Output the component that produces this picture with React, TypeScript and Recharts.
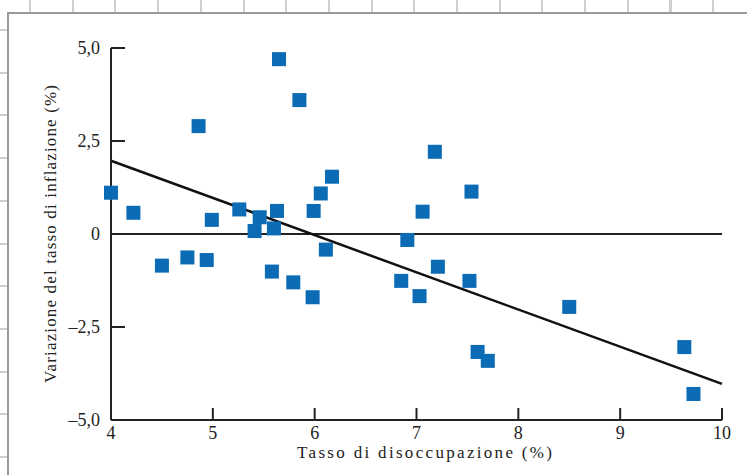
import { ScatterChart, Scatter, XAxis, YAxis, ReferenceLine, Label } from "recharts";

// #region Phillips curve data
export const unemployment = [
  4.0, 4.22, 4.5, 4.75, 4.86, 4.94, 4.99, 5.26, 5.41, 5.46, 5.6, 5.63, 5.65, 5.58,
  5.79, 5.85, 5.98, 5.99, 6.06, 6.11, 6.17, 6.85, 6.91, 7.03, 7.06, 7.18, 7.21,
  7.52, 7.54, 7.6, 7.7, 8.5, 9.63, 9.72,
];
export const inflationChange = [
  1.11, 0.57, -0.85, -0.63, 2.9, -0.7, 0.38, 0.66, 0.08, 0.45, 0.15, 0.62, 4.7, -1.01,
  -1.3, 3.6, -1.7, 0.62, 1.09, -0.42, 1.54, -1.26, -0.16, -1.67, 0.6, 2.21, -0.88,
  -1.26, 1.14, -3.17, -3.41, -1.96, -3.04, -4.3,
];
export const fitX = [4, 10];
export const fitY = [1.97, -4.03];
export const xTicks = [4, 5, 6, 7, 8, 9, 10];
export const yTicks = [-5, -2.5, 0, 2.5, 5];
// #endregion

const points = unemployment.map((u, i) => ({ u, d: inflationChange[i] }));
const fitSegment = fitX.map((x, i) => ({ x, y: fitY[i] }));

const INK = "#222";
const BLUE = "#0b6bb5";
const FONT = "'Liberation Serif', 'Times New Roman', serif";

const fmtY = (v: number) => (v === 0 ? "0" : v.toFixed(1).replace(".", ",").replace("-", "\u2013"));

const YTick = ({ x, y, payload }: any) => (
  <g>
    {payload.value !== -5 && (
      <line x1={x} x2={x + 14} y1={y} y2={y} stroke={INK} strokeWidth={2} />
    )}
    <text x={x - 11} y={y + 6} textAnchor="end" fontSize={18} fontFamily={FONT} fill={INK}>
      {fmtY(payload.value)}
    </text>
  </g>
);

const XTick = ({ x, y, payload }: any) => (
  <g>
    {payload.value !== 4 && (
      <line x1={x} x2={x} y1={y} y2={y - 12} stroke={INK} strokeWidth={2} />
    )}
    <text x={x} y={y + 19} textAnchor="middle" fontSize={18} fontFamily={FONT} fill={INK}>
      {payload.value}
    </text>
  </g>
);

const Square = ({ cx, cy }: any) => <rect x={cx - 7} y={cy - 7} width={14} height={14} fill={BLUE} />;

const XTitle = ({ viewBox }: any) => (
  <text
    x={viewBox.x + viewBox.width / 2 + 8}
    y={458}
    textAnchor="middle"
    fontSize={17}
    fontFamily={FONT}
    fill={INK}
    textLength={255}
    lengthAdjust="spacing"
  >
    Tasso di disoccupazione (%)
  </text>
);

const YTitle = ({ viewBox }: any) => {
  const cx = 56;
  const cy = viewBox.y + viewBox.height / 2;
  return (
    <text
      x={cx}
      y={cy}
      transform={`rotate(-90, ${cx}, ${cy})`}
      textAnchor="middle"
      fontSize={17}
      fontFamily={FONT}
      fill={INK}
      textLength={298}
      lengthAdjust="spacing"
    >
      Variazione del tasso di inflazione (%)
    </text>
  );
};

const stubs =
  "repeating-linear-gradient(to right, transparent 0px, transparent 29px, #cfcfcf 29px, #cfcfcf 31px, transparent 31px, transparent 42.7px)";
const stubsV =
  "repeating-linear-gradient(to bottom, transparent 0px, transparent 29px, #cfcfcf 29px, #cfcfcf 31px, transparent 31px, transparent 42.7px)";

const App = () => {
  return (
    <div style={{ position: "absolute", left: 0, top: 0, width: 747, height: 475, background: "#fff" }}>
      {/* scan frame + graph paper stubs */}
      <div style={{ position: "absolute", left: 0, top: 0, width: 747, height: 12, background: stubs }} />
      <div style={{ position: "absolute", left: 0, top: 0, width: 7, height: 475, background: stubsV }} />
      <div style={{ position: "absolute", left: 7, top: 12, width: 740, height: 2, background: "#9a9a9a" }} />
      <div style={{ position: "absolute", left: 7, top: 12, width: 2, height: 463, background: "#9a9a9a" }} />

      <div style={{ position: "absolute", left: 0, top: 0 }}>
        <ScatterChart width={747} height={475} margin={{ top: 48, right: 25, bottom: 10, left: 51 }}>
          <XAxis
            type="number"
            dataKey="u"
            domain={[4, 10]}
            ticks={xTicks}
            height={45}
            tickSize={0}
            tickMargin={0}
            tickLine={false}
            tick={<XTick />}
            axisLine={{ stroke: INK, strokeWidth: 2 }}
          >
            <Label content={<XTitle />} />
          </XAxis>
          <YAxis
            type="number"
            dataKey="d"
            domain={[-5, 5]}
            ticks={yTicks}
            width={60}
            tickSize={0}
            tickMargin={0}
            tickLine={false}
            tick={<YTick />}
            axisLine={{ stroke: INK, strokeWidth: 2 }}
          >
            <Label content={<YTitle />} />
          </YAxis>
          <ReferenceLine y={0} stroke={INK} strokeWidth={2} />
          <ReferenceLine segment={fitSegment} stroke="#111" strokeWidth={2.5} />
          <Scatter data={points} shape={<Square />} isAnimationActive={false} />
        </ScatterChart>
      </div>
    </div>
  );
};

export default App;
